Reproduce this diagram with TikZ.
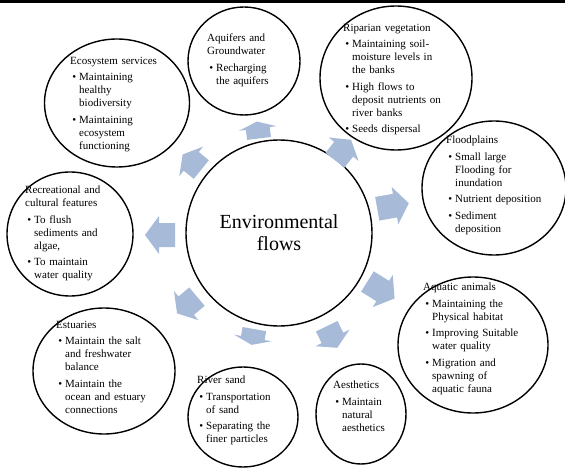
\documentclass[tikz,border=0pt]{standalone}
\usepackage{fontspec}
\setmainfont{Liberation Serif}
\usetikzlibrary{shapes.geometric}
\definecolor{flowblue}{RGB}{167,187,216}
\newcommand{\bul}[1]{\par\vspace{3.5pt}\hangindent=9pt\hangafter=0\noindent\llap{\textbullet\hspace{3pt}}{\let\\\newline #1}\par}
\newcommand{\flowarrow}[5]{\coordinate (#1) at #2;
  \fill[flowblue,shift={(#1)},rotate=#3] ({-#4/2},12) -- ({#4/2-#5},12) -- ({#4/2-#5},19) -- ({#4/2},0) -- ({#4/2-#5},-19) -- ({#4/2-#5},-12) -- ({-#4/2},-12) -- cycle;}

\begin{document}
\begin{tikzpicture}[x=1pt,y=-1pt,
  bubble/.style={draw,ellipse,line width=1.4pt,inner sep=0pt},
  bubtext/.style={anchor=north west,inner sep=0pt,text width=140pt,align=left,font=\fontsize{11}{13}\selectfont}]
\useasboundingbox (0,0) rectangle (565,468);
\draw[line width=3pt] (0,1.5) -- (565,1.5);
% centre
\node[bubble,minimum size=186pt,align=center,font=\fontsize{20}{22}\selectfont] (env) at (279,233) {Environmental\\flows};
% outer bubbles
\node[bubble,minimum width=145pt,minimum height=128pt] (eco) at (117,103) {};
\node[bubble,minimum width=112pt,minimum height=108pt] (aqu) at (244,61) {};
\node[bubble,minimum width=152pt,minimum height=144pt] (rip) at (396,78) {};
\node[bubble,minimum width=144pt,minimum height=134pt] (fld) at (494,188) {};
\node[bubble,minimum width=150pt,minimum height=136pt] (aqa) at (473,345) {};
\node[bubble,minimum width=90pt,minimum height=100pt] (aes) at (361,414) {};
\node[bubble,minimum width=110pt,minimum height=100pt] (riv) at (243,417) {};
\node[bubble,minimum width=142pt,minimum height=126pt] (est) at (104,371) {};
\node[bubble,minimum width=126pt,minimum height=124pt] (rec) at (70,234) {};
% texts
\node[bubtext] (ecotxt) at (70,57) {Ecosystem services\bul{Maintaining\\healthy\\biodiversity}\bul{Maintaining\\ecosystem\\functioning}};
\node[bubtext] (aqutxt) at (207,34) {Aquifers and\\Groundwater\bul{Recharging\\the aquifers}};
\node[bubtext] (riptxt) at (343,24) {Riparian vegetation\bul{Maintaining soil-\\moisture levels in\\the banks}\bul{High flows to\\deposit nutrients on\\river banks}\bul{Seeds dispersal}};
\node[bubtext] (fldtxt) at (446,136) {Floodplains\bul{Small large\\Flooding for\\inundation}\bul{Nutrient deposition}\bul{Sediment\\deposition}};
\node[bubtext] (aqatxt) at (423,283) {Aquatic animals\bul{Maintaining the\\Physical habitat}\bul{Improving Suitable\\water quality}\bul{Migration and\\spawning of\\aquatic fauna}};
\node[bubtext] (aestxt) at (333,381) {Aesthetics\bul{Maintain\\natural\\aesthetics}};
\node[bubtext] (rivtxt) at (197,376) {River sand\bul{Transportation\\of sand}\bul{Separating the\\finer particles}};
\node[bubtext] (esttxt) at (56,321) {Estuaries\bul{Maintain the salt\\and freshwater\\balance}\bul{Maintain the\\ocean and estuary\\connections}};
\node[bubtext] (rectxt) at (25,186) {Recreational and\\cultural features\bul{To flush\\sediments and\\algae,}\bul{To maintain\\water quality}};
% arrows
\flowarrow{arrEco}{(192,162)}{141}{24}{11}
\flowarrow{arrAqu}{(258,130)}{97}{17}{7}
\flowarrow{arrRip}{(343,150)}{52}{26}{12}
\flowarrow{arrFld}{(393,206)}{10}{32}{14}
\flowarrow{arrAqa}{(381,290)}{-32}{32}{14}
\flowarrow{arrAes}{(332,337)}{-64}{24}{11}
\flowarrow{arrRiv}{(253,337)}{-100}{16}{7}
\flowarrow{arrEst}{(187,305)}{-140}{26}{12}
\flowarrow{arrRec}{(160,235)}{180}{30}{14}
\end{tikzpicture}
\end{document}
